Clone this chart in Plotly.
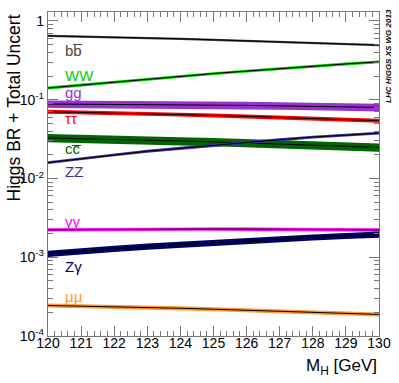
import math
import plotly.graph_objects as go

mass = [120, 121, 122, 123, 124, 125, 126, 127, 128, 129, 130]

br_bb = [0.648, 0.636, 0.623, 0.609, 0.594, 0.577, 0.561, 0.545, 0.528, 0.511, 0.494]
br_WW = [0.141, 0.154, 0.168, 0.182, 0.198, 0.215, 0.231, 0.249, 0.267, 0.285, 0.303]
br_gg = [0.0882, 0.0878, 0.0872, 0.0866, 0.0859, 0.0857, 0.0848, 0.0836, 0.0824, 0.0812, 0.0799]
br_tautau = [0.0704, 0.0692, 0.0678, 0.0663, 0.0648, 0.0632, 0.0615, 0.0597, 0.0579, 0.0560, 0.0541]
br_cc = [0.0327, 0.0321, 0.0314, 0.0307, 0.0299, 0.0291, 0.0283, 0.0275, 0.0266, 0.0257, 0.0248]
br_ZZ = [0.0159, 0.0179, 0.0200, 0.0222, 0.0242, 0.0264, 0.0287, 0.0311, 0.0335, 0.0357, 0.0377]
br_gamgam = [0.00223, 0.00225, 0.00226, 0.00227, 0.00228, 0.00228, 0.00228, 0.00226, 0.00225, 0.00224, 0.00222]
br_Zgam = [0.00111, 0.00120, 0.00128, 0.00137, 0.00145, 0.00154, 0.00162, 0.00171, 0.00179, 0.00187, 0.00195]
br_mumu = [0.000244, 0.000240, 0.000235, 0.000230, 0.000225, 0.000219, 0.000213, 0.000207, 0.000201, 0.000194, 0.000188]

channels = ["bb", "WW", "gg", "tautau", "cc", "ZZ", "gamgam", "Zgam", "mumu"]
channel_labels = ["bb\u0305", "WW", "gg", "\u03c4\u03c4", "cc\u0305", "ZZ", "\u03b3\u03b3", "Z\u03b3", "\u03bc\u03bc"]
channel_values = [br_bb, br_WW, br_gg, br_tautau, br_cc, br_ZZ, br_gamgam, br_Zgam, br_mumu]
rel_uncert = [0.032, 0.042, 0.11, 0.057, 0.12, 0.042, 0.05, 0.09, 0.06]
label_y = [0.42, 0.204, 0.124, 0.058, 0.0241, 0.0123, 0.00283, 0.00076, 0.000316]
colors = ["#444444", "#00cc00", "#9933cc", "#ff0000", "#006600", "#333399", "#ff00ff", "#000066", "#ff9933"]

fig = go.Figure()
for name, vals, unc, col in zip(channels, channel_values, rel_uncert, colors):
    lo = [v * (1 - unc) for v in vals]
    hi = [v * (1 + unc) for v in vals]
    fig.add_trace(go.Scatter(x=mass, y=lo, mode="lines", line=dict(width=0, color=col),
                             showlegend=False, hoverinfo="skip"))
    fig.add_trace(go.Scatter(x=mass, y=hi, mode="lines", line=dict(width=0, color=col),
                             fill="tonexty", fillcolor=col, showlegend=False, hoverinfo="skip"))
    fig.add_trace(go.Scatter(x=mass, y=vals, mode="lines", line=dict(width=1, color="black"),
                             showlegend=False, name=name))

for lab, ly, col in zip(channel_labels, label_y, colors):
    fig.add_annotation(x=120.45, y=math.log10(ly), xref="x", yref="y", text=lab,
                       showarrow=False, xanchor="left", yanchor="middle",
                       font=dict(family="Liberation Sans, Arial", size=15, color=col))

ytickvals = [1e-4, 1e-3, 1e-2, 1e-1, 1]
yticktext = ["10<sup>-4</sup>", "10<sup>-3</sup>", "10<sup>-2</sup>", "10<sup>-1</sup>", "1"]

axcol = "#777777"
fig.update_xaxes(range=[120, 130], dtick=1, ticks="inside", ticklen=10, tickwidth=1,
                 tickcolor=axcol, showline=True, linecolor=axcol, linewidth=1.3, mirror="ticks",
                 showgrid=False, zeroline=False, automargin=False, ticklabelstandoff=-6,
                 minor=dict(dtick=0.2, ticks="inside", ticklen=5, tickcolor=axcol, showgrid=False),
                 tickfont=dict(family="Liberation Sans, Arial", size=14, color="black"))
fig.update_yaxes(type="log", range=[-4, 0.114], tickvals=ytickvals, ticktext=yticktext,
                 ticks="inside", ticklen=10, tickwidth=1, tickcolor=axcol,
                 showline=True, linecolor=axcol, linewidth=1.3, mirror="ticks",
                 showgrid=False, zeroline=False, automargin=False,
                 minor=dict(ticks="inside", ticklen=5, tickcolor=axcol, showgrid=False,
                            tickvals=[m * 10 ** e for e in range(-4, 1) for m in range(2, 10)]),
                 tickfont=dict(family="Liberation Sans, Arial", size=14, color="black"))

fig.add_annotation(text="M<sub>H</sub> [GeV]", xref="paper", yref="paper", x=1.0, y=-0.095,
                   xanchor="right", yanchor="middle", showarrow=False,
                   font=dict(family="Liberation Sans, Arial", size=17, color="black"))
fig.add_annotation(text="Higgs BR + Total Uncert", xref="paper", yref="paper", x=-0.103, y=1.0,
                   xanchor="center", yanchor="top", textangle=-90, showarrow=False,
                   font=dict(family="Liberation Sans, Arial", size=17.5, color="black"))
fig.add_annotation(text="<b><i>LHC HIGGS XS WG 2013</i></b>", xref="paper", yref="paper",
                   x=1.027, y=0.864, xanchor="center", yanchor="middle", textangle=-90,
                   showarrow=False, font=dict(family="Liberation Sans, Arial", size=8, color="black"))

fig.update_layout(width=399, height=383, margin=dict(l=48, r=20, t=12, b=47),
                  plot_bgcolor="white", paper_bgcolor="white", showlegend=False)
fig.write_html("out.html", config={"displayModeBar": False},
               post_script="document.body.style.margin='0';document.body.style.overflow='hidden';")
